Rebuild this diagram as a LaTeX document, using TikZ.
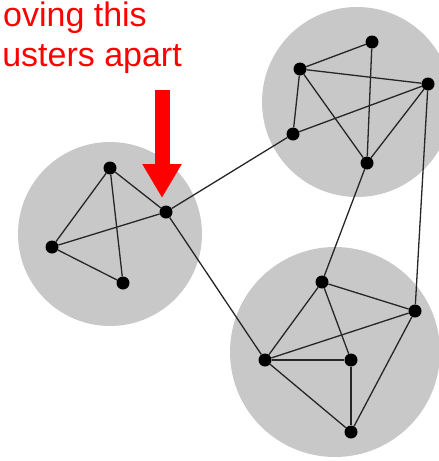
\documentclass[tikz,border=0pt]{standalone}
\usepackage{fontspec}
\setmainfont{Liberation Sans}
\usepackage{tikz}
\usetikzlibrary{arrows.meta}
\definecolor{eRed}{rgb}{1,0,0}
\definecolor{eGray}{RGB}{200,200,200}
\tikzset{v/.style={circle, fill=black, inner sep=0pt, minimum size=13pt}}
\tikzset{e/.style={draw, line width=1.3pt, black!85}}
\tikzset{blob/.style={fill=eGray}}
\tikzset{note/.style={eRed, inner sep=0pt, anchor=base east,
  font=\fontsize{34}{40}\selectfont}}
\begin{document}
\begin{tikzpicture}[x=1pt, y=-1pt]
            \useasboundingbox (0,0) rectangle (439,461);
            \fill[blob] (110,234) circle (92);
            \fill[blob] (357,102) circle (95);
            \fill[blob] (335,352) circle (105);
            %%
            \node (l1) at (110,168) [v] {};
            \node (l2) at (166,212) [v] {};
            \node (l3) at (52,247) [v] {};
            \node (l4) at (123,283) [v] {};
            %%
            \node (t1) at (372,42) [v] {};
            \node (t2) at (300,69) [v] {};
            \node (t3) at (428,84) [v] {};
            \node (t4) at (293,134) [v] {};
            \node (t5) at (367,163) [v] {};
            %%
            \node (b1) at (322,282) [v] {};
            \node (b2) at (415,311) [v] {};
            \node (b3) at (265,360) [v] {};
            \node (b4) at (351,360) [v] {};
            \node (b5) at (351,432) [v] {};
            %%
            \path[e] (l1) to (l3);
            \path[e] (l1) to (l4);
            \path[e] (l1) to (l2);
            \path[e] (l3) to (l2);
            \path[e] (l3) to (l4);
            %%
            \path[e] (t1) to (t2);
            \path[e] (t1) to (t5);
            \path[e] (t2) to (t3);
            \path[e] (t2) to (t4);
            \path[e] (t2) to (t5);
            \path[e] (t4) to (t3);
            \path[e] (t3) to (t5);
            %%
            \path[e] (b1) to (b2);
            \path[e] (b1) to (b3);
            \path[e] (b1) to (b4);
            \path[e] (b3) to (b2);
            \path[e] (b3) to (b4);
            \path[e] (b3) to (b5);
            \path[e] (b4) to (b5);
            \path[e] (b2) to (b5);
            %%
            \path[e] (l2) to (t4);
            \path[e] (l2) to (b3);
            \path[e] (t5) to (b1);
            \path[e] (t3) to (b2);
            %%
            \node (cap1) at (147,26) [note] {oving this};
            \node (cap2) at (182,66) [note] {usters apart};
            \coordinate (tail) at (162,90);
            \coordinate (tip) at (162,198);
            \draw[eRed, line width=15pt, -{Triangle[width=37pt, length=34pt]}] (tail) -- (tip);
          \end{tikzpicture}
\end{document}
